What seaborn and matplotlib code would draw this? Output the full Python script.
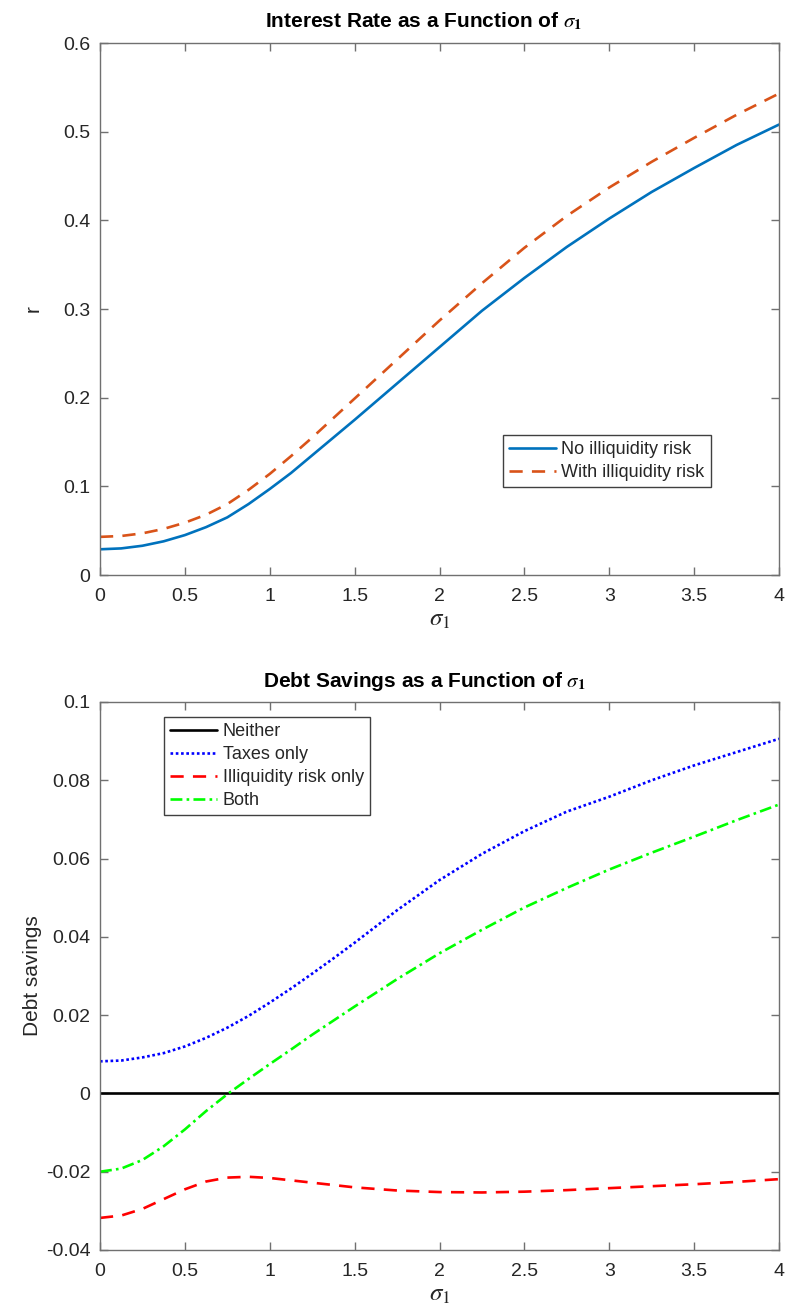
import numpy as np
import pandas as pd
import matplotlib
matplotlib.use("Agg")
import matplotlib.pyplot as plt
import seaborn as sns

# ---------------- data ----------------
sigma = [0.0, 0.125, 0.25, 0.375, 0.5, 0.625, 0.75, 0.875, 1.0, 1.125, 1.25, 1.375, 1.5,
         1.75, 2.0, 2.25, 2.5, 2.75, 3.0, 3.25, 3.5, 3.75, 4.0]

r_no_illiq = [0.029, 0.030, 0.033, 0.038, 0.045, 0.054, 0.065, 0.080, 0.097, 0.115, 0.135, 0.155, 0.175,
              0.216, 0.257, 0.298, 0.335, 0.370, 0.402, 0.432, 0.459, 0.485, 0.508]
r_with_illiq = [0.043, 0.044, 0.047, 0.052, 0.059, 0.068, 0.080, 0.096, 0.114, 0.134, 0.155, 0.177, 0.199,
                0.243, 0.287, 0.329, 0.369, 0.405, 0.437, 0.466, 0.493, 0.519, 0.543]

ds_neither = [0.0] * len(sigma)
ds_taxes = [0.0082, 0.0084, 0.0092, 0.0103, 0.0120, 0.0142, 0.0168, 0.0198, 0.0232, 0.0268, 0.0306, 0.0345, 0.0385,
            0.0468, 0.0545, 0.0612, 0.0670, 0.0720, 0.0758, 0.0800, 0.0838, 0.0872, 0.0906]
ds_illiq = [-0.0318, -0.0312, -0.0295, -0.0270, -0.0245, -0.0225, -0.0215, -0.0213, -0.0216, -0.0222, -0.0228,
            -0.0234, -0.0240, -0.0248, -0.0252, -0.0253, -0.0251, -0.0247, -0.0242, -0.0237, -0.0232, -0.0226, -0.0219]
ds_both = [-0.0200, -0.0192, -0.0170, -0.0135, -0.0092, -0.0045, -0.0002, 0.0037, 0.0075, 0.0112, 0.0150, 0.0186,
           0.0222, 0.0292, 0.0358, 0.0418, 0.0475, 0.0525, 0.0572, 0.0615, 0.0656, 0.0698, 0.0738]

xticks = [0, 0.5, 1, 1.5, 2, 2.5, 3, 3.5, 4]
xticklabels = ['0', '0.5', '1', '1.5', '2', '2.5', '3', '3.5', '4']
yticks_top = [0, 0.1, 0.2, 0.3, 0.4, 0.5, 0.6]
yticklabels_top = ['0', '0.1', '0.2', '0.3', '0.4', '0.5', '0.6']
yticks_bot = [-0.04, -0.02, 0, 0.02, 0.04, 0.06, 0.08, 0.1]
yticklabels_bot = ['-0.04', '-0.02', '0', '0.02', '0.04', '0.06', '0.08', '0.1']

# ---------------- style ----------------
sns.set_theme(style="white")
plt.rcParams['font.family'] = ['Liberation Sans', 'DejaVu Sans']
plt.rcParams['mathtext.fontset'] = 'stix'
plt.rcParams['text.color'] = '#262626'
plt.rcParams['axes.labelcolor'] = '#262626'
plt.rcParams['xtick.color'] = '#262626'
plt.rcParams['ytick.color'] = '#262626'

W, H = 789, 1309
fig = plt.figure(figsize=(W / 100, H / 100), dpi=100)
fig.patch.set_facecolor('white')

def rect(l, t, r, b):
    return [l / W, 1 - b / H, (r - l) / W, (b - t) / H]

ax1 = fig.add_axes(rect(100, 43, 779, 575))
ax2 = fig.add_axes(rect(100, 702, 779, 1250))

LW = 1.9
DASH = (0, (5.0, 3.5))
DOT = (0, (1.0, 1.0))
DASHDOT = (0, (4.5, 1.6, 1.0, 1.6))

def style_axes(ax):
    for s in ax.spines.values():
        s.set_visible(True)
        s.set_color('#707070')
        s.set_linewidth(1.0)
    ax.tick_params(direction='in', length=6, width=1.0, color='#707070',
                   top=True, right=True, bottom=True, left=True, labelsize=14)
    ax.tick_params(axis='x', pad=9)
    ax.tick_params(axis='y', pad=7)
    ax.grid(False)
    ax.set_facecolor('white')

def style_legend(leg):
    leg.get_frame().set_linewidth(1.0)
    leg.get_frame().set_edgecolor('#404040')

LEG_KW = dict(fontsize=13, frameon=True, fancybox=False, framealpha=1,
              handlelength=2.6, handletextpad=0.3, borderpad=0.35, labelspacing=0.33,
              borderaxespad=0)

def set_title(ax, text):
    t = ax.set_title(text, fontsize=15, fontweight='bold', color='black', pad=11)
    t.set_x(0.477)

# ---------------- top panel ----------------
sns.lineplot(x=sigma, y=r_no_illiq, ax=ax1, color='#0072BD', linewidth=LW,
             label='No illiquidity risk')
sns.lineplot(x=sigma, y=r_with_illiq, ax=ax1, color='#D95319', linewidth=LW,
             linestyle=DASH, label='With illiquidity risk')
ax1.set_xlim(0, 4)
ax1.set_ylim(0, 0.6)
ax1.set_xticks(xticks)
ax1.set_xticklabels(xticklabels)
ax1.set_yticks(yticks_top)
ax1.set_yticklabels(yticklabels_top)
style_axes(ax1)
set_title(ax1, r'Interest Rate as a Function of $\sigma_\mathbf{1}$')
ax1.set_xlabel(r'$\sigma_1$', fontsize=18, labelpad=2)
ax1.set_ylabel('r', fontsize=15)
ax1.yaxis.set_label_coords(-0.085, 0.5)
leg1 = ax1.legend(loc='lower left', bbox_to_anchor=(0.593, 0.165), **LEG_KW)
style_legend(leg1)

# ---------------- bottom panel ----------------
sns.lineplot(x=sigma, y=ds_neither, ax=ax2, color='black', linewidth=LW, label='Neither')
sns.lineplot(x=sigma, y=ds_taxes, ax=ax2, color='#0000FF', linewidth=LW,
             linestyle=DOT, label='Taxes only')
sns.lineplot(x=sigma, y=ds_illiq, ax=ax2, color='#FF0000', linewidth=LW,
             linestyle=DASH, label='Illiquidity risk only')
sns.lineplot(x=sigma, y=ds_both, ax=ax2, color='#00FF00', linewidth=LW,
             linestyle=DASHDOT, label='Both')
ax2.set_xlim(0, 4)
ax2.set_ylim(-0.04, 0.1)
ax2.set_xticks(xticks)
ax2.set_xticklabels(xticklabels)
ax2.set_yticks(yticks_bot)
ax2.set_yticklabels(yticklabels_bot)
style_axes(ax2)
set_title(ax2, r'Debt Savings as a Function of $\sigma_\mathbf{1}$')
ax2.set_xlabel(r'$\sigma_1$', fontsize=18, labelpad=2)
ax2.set_ylabel('Debt savings', fontsize=15)
ax2.yaxis.set_label_coords(-0.085, 0.5)
leg2 = ax2.legend(loc='upper left', bbox_to_anchor=(0.094, 0.973), **LEG_KW)
style_legend(leg2)

fig.savefig('out.png', dpi=100, facecolor='white')
